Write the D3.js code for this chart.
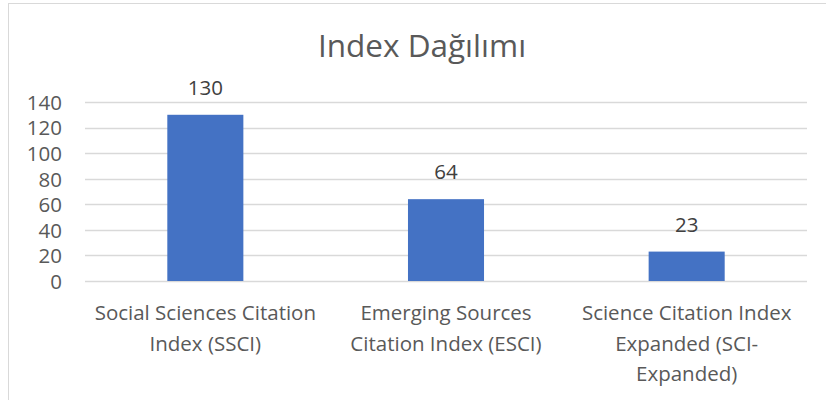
<!DOCTYPE html>
<html>
<head>
<meta charset="utf-8">
<script src="https://cdn.jsdelivr.net/npm/d3@7"></script>
<style>
  body { margin: 0; background: #fff; }
  svg { display: block; }
  text { font-family: "Open Sans", sans-serif; }
</style>
</head>
<body>
<svg id="chart" width="826" height="400"></svg>
<script>
const categories = [
  "Social Sciences Citation Index (SSCI)",
  "Emerging Sources Citation Index (ESCI)",
  "Science Citation Index Expanded (SCI-Expanded)"
]
const counts = [130, 64, 23]
const yTicks = [0, 20, 40, 60, 80, 100, 120, 140]
const title = "Index Dağılımı"

const svg = d3.select("#chart")

const margin = { left: 85, right: 19, top: 102, bottom: 119 }
const width = +svg.attr("width"),
      height = +svg.attr("height")

const fontSize = 20.5

// chart frame (only top + left edges are visible in the crop)
svg.append("rect")
    .attr("x", 8.5).attr("y", 3.5)
    .attr("width", 840).attr("height", 420)
    .attr("fill", "none")
    .attr("stroke", "#d9d9d9")
    .attr("stroke-width", 1)

const x = d3.scaleBand()
    .domain(categories)
    .range([margin.left, width - margin.right])
    .paddingInner(0.684)
    .paddingOuter(0.342)

const y = d3.scaleLinear()
    .domain([0, 140])
    .range([height - margin.bottom, margin.top])

// gridlines
svg.append("g")
    .attr("class", "grid")
  .selectAll("line")
  .data(yTicks)
  .enter().append("line")
    .attr("x1", margin.left)
    .attr("x2", width - margin.right)
    .attr("y1", d => Math.round(y(d)) + 0.5)
    .attr("y2", d => Math.round(y(d)) + 0.5)
    .attr("stroke", "#d9d9d9")
    .attr("stroke-width", 1.5)

// y axis labels
const yAxis = svg.append("g")
    .attr("transform", "translate(" + (margin.left - 23) + ",0)")
    .call(d3.axisLeft(y).tickValues(yTicks).tickSize(0).tickPadding(0))
yAxis.select(".domain").remove()
yAxis.selectAll("text")
    .attr("fill", "#595959")
    .style("font-size", fontSize + "px")
    .style("font-family", "'Open Sans', sans-serif")
    .attr("dy", "0.36em")

// bars
svg.append("g")
  .selectAll("rect")
  .data(counts)
  .enter().append("rect")
    .attr("x", (d, i) => x(categories[i]))
    .attr("width", x.bandwidth())
    .attr("y", d => y(d))
    .attr("height", d => y(0) - y(d))
    .attr("fill", "#4472c4")

// data labels
svg.append("g")
  .selectAll("text")
  .data(counts)
  .enter().append("text")
    .attr("x", (d, i) => x(categories[i]) + x.bandwidth() / 2)
    .attr("y", d => y(d) - 20)
    .attr("text-anchor", "middle")
    .attr("fill", "#404040")
    .style("font-size", fontSize + "px")
    .text(d => d)

// category labels, wrapped like the original
function wrap(str, maxW, size) {
  const probe = svg.append("text").style("font-size", size + "px")
  const tokens = str.match(/[^\s-]+-?/g)
  const lines = []
  let cur = ""
  tokens.forEach(t => {
    const sep = cur === "" || cur.endsWith("-") ? "" : " "
    const next = cur + sep + t
    probe.text(next)
    if (cur !== "" && probe.node().getComputedTextLength() > maxW) {
      lines.push(cur)
      cur = t
    } else {
      cur = next
    }
  })
  lines.push(cur)
  probe.remove()
  return lines
}

const xLabels = svg.append("g")
  .selectAll("text")
  .data(categories)
  .enter().append("text")
    .attr("text-anchor", "middle")
    .attr("fill", "#595959")
    .style("font-size", fontSize + "px")
    .attr("transform", d => "translate(" + (x(d) + x.bandwidth() / 2) + "," + (y(0) + 39) + ")")

xLabels.each(function(d) {
  const lines = wrap(d, 232, fontSize)
  d3.select(this).selectAll("tspan")
    .data(lines)
    .enter().append("tspan")
      .attr("x", 0)
      .attr("y", (l, i) => i * 30.5)
      .text(l => l)
})

// title
svg.append("text")
    .attr("x", 422)
    .attr("y", 57)
    .attr("text-anchor", "middle")
    .attr("fill", "#595959")
    .style("font-size", "31.5px")
    .text(title)
</script>
</body>
</html>
